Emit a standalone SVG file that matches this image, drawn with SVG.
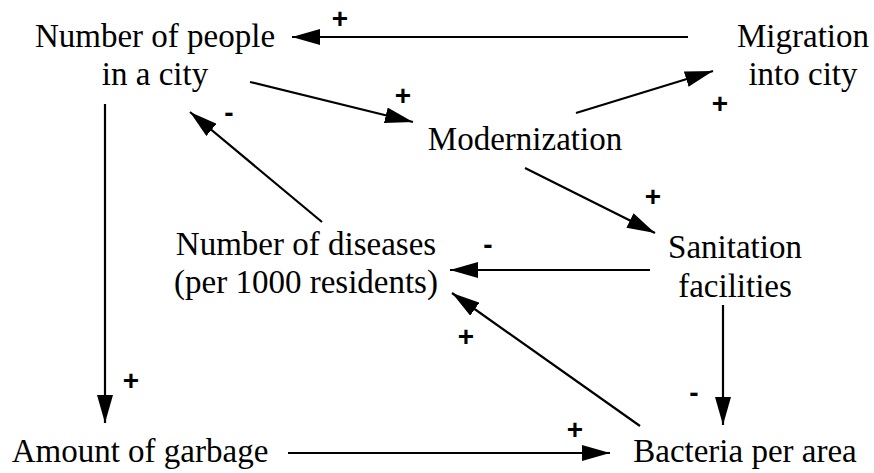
<svg xmlns="http://www.w3.org/2000/svg" width="874" height="473" viewBox="0 0 874 473">
<defs>
<marker id="ah" viewBox="0 0 28 16" refX="28" refY="8" markerWidth="28" markerHeight="16" markerUnits="userSpaceOnUse" orient="auto">
<path d="M0,0 L28,8 L0,16 Z" fill="#000"/>
</marker>
</defs>
<rect width="874" height="473" fill="#fff"/>
<g id="people"><text x="155" y="47" style="font-family:'Liberation Serif',serif;font-size:33px;text-anchor:middle">Number of people</text><text x="155" y="85" style="font-family:'Liberation Serif',serif;font-size:33px;text-anchor:middle">in a city</text></g>
<g id="migration"><text x="803" y="47" style="font-family:'Liberation Serif',serif;font-size:33px;text-anchor:middle">Migration</text><text x="803" y="85" style="font-family:'Liberation Serif',serif;font-size:33px;text-anchor:middle">into city</text></g>
<g id="modernization"><text x="525" y="150" style="font-family:'Liberation Serif',serif;font-size:33px;text-anchor:middle">Modernization</text></g>
<g id="diseases"><text x="306" y="255" style="font-family:'Liberation Serif',serif;font-size:33px;text-anchor:middle">Number of diseases</text><text x="306" y="293" style="font-family:'Liberation Serif',serif;font-size:33px;text-anchor:middle">(per 1000 residents)</text></g>
<g id="sanitation"><text x="735" y="258" style="font-family:'Liberation Serif',serif;font-size:33px;text-anchor:middle">Sanitation</text><text x="735" y="297" style="font-family:'Liberation Serif',serif;font-size:33px;text-anchor:middle">facilities</text></g>
<g id="garbage"><text x="140" y="462" style="font-family:'Liberation Serif',serif;font-size:33px;text-anchor:middle">Amount of garbage</text></g>
<g id="bacteria"><text x="745" y="462" style="font-family:'Liberation Serif',serif;font-size:33px;text-anchor:middle">Bacteria per area</text></g>
<g id="connectors" stroke="#000" stroke-width="2.2" fill="none" marker-end="url(#ah)">
<line x1="688" y1="37" x2="292" y2="37"/>
<line x1="250" y1="82" x2="413" y2="122"/>
<line x1="576" y1="113" x2="713" y2="71"/>
<line x1="525" y1="168" x2="655" y2="233"/>
<line x1="322" y1="222" x2="190" y2="112"/>
<line x1="650" y1="270" x2="450" y2="270"/>
<line x1="723" y1="305" x2="723" y2="425"/>
<line x1="640" y1="426" x2="452" y2="293"/>
<line x1="105" y1="104" x2="105" y2="423"/>
<line x1="288" y1="453" x2="610" y2="453"/>
</g>
<g id="signs">
<text x="340" y="28" style="font-family:'Liberation Sans',sans-serif;font-size:28px;font-weight:bold;text-anchor:middle">+</text>
<text x="403" y="105" style="font-family:'Liberation Sans',sans-serif;font-size:28px;font-weight:bold;text-anchor:middle">+</text>
<text x="720" y="113" style="font-family:'Liberation Sans',sans-serif;font-size:28px;font-weight:bold;text-anchor:middle">+</text>
<text x="653" y="206" style="font-family:'Liberation Sans',sans-serif;font-size:28px;font-weight:bold;text-anchor:middle">+</text>
<text x="229" y="122" style="font-family:'Liberation Sans',sans-serif;font-size:28px;font-weight:bold;text-anchor:middle">-</text>
<text x="488" y="254" style="font-family:'Liberation Sans',sans-serif;font-size:28px;font-weight:bold;text-anchor:middle">-</text>
<text x="694" y="402" style="font-family:'Liberation Sans',sans-serif;font-size:28px;font-weight:bold;text-anchor:middle">-</text>
<text x="466" y="346" style="font-family:'Liberation Sans',sans-serif;font-size:28px;font-weight:bold;text-anchor:middle">+</text>
<text x="131" y="390" style="font-family:'Liberation Sans',sans-serif;font-size:28px;font-weight:bold;text-anchor:middle">+</text>
<text x="575" y="439" style="font-family:'Liberation Sans',sans-serif;font-size:28px;font-weight:bold;text-anchor:middle">+</text>
</g>
</svg>
